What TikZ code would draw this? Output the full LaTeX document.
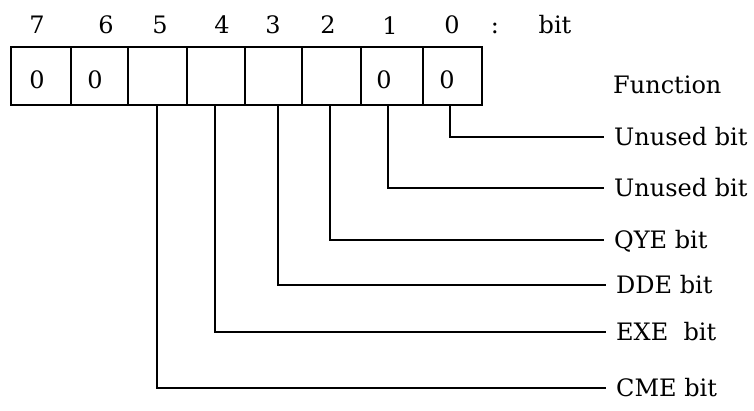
\documentclass[tikz,border=0pt]{standalone}
\usepackage{fontspec}
\setmainfont{DejaVu Serif}
\begin{document}
\begin{tikzpicture}[x=1pt,y=-1pt,
  every node/.style={font=\fontsize{24}{28}\selectfont, inner sep=0pt},
  cell/.style={draw, line width=1.6pt, minimum height=58pt},
  bitnum/.style={anchor=base},
  zero/.style={anchor=center},
  fn/.style={anchor=west, inner xsep=10pt, text height=17pt, text depth=0pt},
  wire/.style={line width=1.6pt}]
\useasboundingbox (0,0) rectangle (754,410);
% bit numbers
\node[bitnum] (n7) at (37,33) {7};
\node[bitnum] (n6) at (106,33) {6};
\node[bitnum] (n5) at (160,33) {5};
\node[bitnum] (n4) at (222,33) {4};
\node[bitnum] (n3) at (273,33) {3};
\node[bitnum] (n2) at (328,33) {2};
\node[bitnum] (n1) at (390,34) {1};
\node[bitnum] (n0) at (452,33) {0};
\node[bitnum] (colon) at (495,33) {:};
\node[bitnum] (bitw) at (555,33) {bit};
% cells
\node[cell, minimum width=60pt] (c7) at (41,76) {};
\node[cell, minimum width=57pt] (c6) at (99.5,76) {};
\node[cell, minimum width=59pt] (c5) at (157.5,76) {};
\node[cell, minimum width=58pt] (c4) at (216,76) {};
\node[cell, minimum width=57pt] (c3) at (273.5,76) {};
\node[cell, minimum width=59pt] (c2) at (331.5,76) {};
\node[cell, minimum width=62pt] (c1) at (392,76) {};
\node[cell, minimum width=59pt] (c0) at (452.5,76) {};
\node[zero] (z7) at (37,80) {0};
\node[zero] (z6) at (95,80) {0};
\node[zero] (z1) at (384,80) {0};
\node[zero] (z0) at (447,80) {0};
% function column
\node[anchor=west, text height=17pt, text depth=0pt] (fhead) at (613,85) {Function};
\node[fn] (f0) at (604,137) {Unused bit};
\node[fn] (f1) at (604,188) {Unused bit};
\node[fn] (f2) at (604,240) {QYE bit};
\node[fn] (f3) at (606,285) {DDE bit};
\node[fn] (f4) at (606,332) {EXE\ \ bit};
\node[fn] (f5) at (606,388) {CME bit};
% connectors
\coordinate (s0) at (450,105);
\coordinate (s1) at (388,105);
\coordinate (s2) at (330,105);
\coordinate (s3) at (278,105);
\coordinate (s4) at (215,105);
\coordinate (s5) at (157,105);
\draw[wire] (s0) |- (f0.west);
\draw[wire] (s1) |- (f1.west);
\draw[wire] (s2) |- (f2.west);
\draw[wire] (s3) |- (f3.west);
\draw[wire] (s4) |- (f4.west);
\draw[wire] (s5) |- (f5.west);
\end{tikzpicture}
\end{document}
